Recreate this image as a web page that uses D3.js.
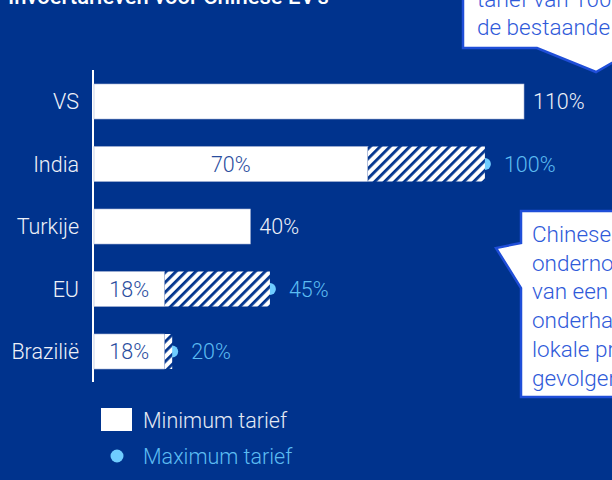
<!DOCTYPE html>
<html lang="nl">
<head>
<meta charset="utf-8">
<title>Invoertarieven voor Chinese EV's</title>
<script src="https://cdn.jsdelivr.net/npm/d3@7/dist/d3.min.js"></script>
<style>
  html, body { margin: 0; padding: 0; background: #00338d; }
  svg { display: block; font-family: "Roboto", "Liberation Sans", sans-serif; font-weight: 300; }
</style>
</head>
<body>
<svg width="612" height="480"></svg>
<script>
// data
var categories = ["VS", "India", "Turkije", "EU", "Brazilië"];
var minTarief = [110, 70, 40, 18, 18];
var maxTarief = [null, 100, null, 45, 20];
var legendLabels = ["Minimum tarief", "Maximum tarief"];
var calloutTop = ["tarief van 100% bovenop", "de bestaande 25%"];
var calloutMid = ["Chinese fabrikanten", "ondernomen stappen", "van een", "onderhandelingen", "lokale productie", "gevolgen"];

var blue = "#00338d", white = "#ffffff", light = "#6fcdff", lightText = "#5cbcf2";
var callBlue = "#1f4ed8", callText = "#2f5ad9";
var fs = 21.5;

var svg = d3.select("svg");

var data = categories.map(function(c, i) {
  return { cat: c, min: minTarief[i], max: maxTarief[i] };
});

var x = d3.scaleLinear().domain([0, 110]).range([94, 524]);
var y = d3.scaleBand().domain(categories).range([56.5, 396.5]).padding(0.44);
var bw = y.bandwidth();

// hatch pattern
var pat = svg.append("defs").append("pattern")
  .attr("id", "hatch")
  .attr("patternUnits", "userSpaceOnUse")
  .attr("width", 7).attr("height", 7)
  .attr("patternTransform", "rotate(45)");
pat.append("rect").attr("width", 7).attr("height", 7).attr("fill", white);
pat.append("rect").attr("width", 2.8).attr("height", 7).attr("fill", blue);

// title (cut at top)
svg.append("text")
  .attr("x", 8).attr("y", 4)
  .attr("fill", white)
  .attr("font-size", 22)
  .attr("font-weight", 500)
  .text("Invoertarieven voor Chinese EV's");

// axis line
svg.append("line")
  .attr("x1", 93).attr("x2", 93)
  .attr("y1", 70).attr("y2", 382)
  .attr("stroke", white).attr("stroke-width", 2);

// category labels
svg.selectAll(".cat")
  .data(data).enter().append("text")
  .attr("class", "cat")
  .attr("x", 79)
  .attr("y", function(d) { return y(d.cat) + bw / 2; })
  .attr("dy", "0.36em")
  .attr("text-anchor", "end")
  .attr("fill", "#eef1f8")
  .attr("font-size", fs)
  .text(function(d) { return d.cat; });

var withMax = data.filter(function(d) { return d.max != null; });

// max dots (behind hatch)
svg.selectAll(".dot")
  .data(withMax).enter().append("circle")
  .attr("cx", function(d) { return x(d.max); })
  .attr("cy", function(d) { return y(d.cat) + bw / 2; })
  .attr("r", 6)
  .attr("fill", light);

// hatched range min..max
svg.selectAll(".range")
  .data(withMax).enter().append("rect")
  .attr("x", function(d) { return x(d.min); })
  .attr("y", function(d) { return y(d.cat); })
  .attr("width", function(d) { return x(d.max) - x(d.min); })
  .attr("height", bw)
  .attr("fill", "url(#hatch)");

// min bars
svg.selectAll(".bar")
  .data(data).enter().append("rect")
  .attr("x", x(0))
  .attr("y", function(d) { return y(d.cat); })
  .attr("width", function(d) { return x(d.min) - x(0); })
  .attr("height", bw)
  .attr("fill", white)
  .attr("stroke", "#a8b6d8")
  .attr("stroke-width", 0.6);

// min labels
svg.selectAll(".minlab")
  .data(data).enter().append("text")
  .attr("x", function(d) { return d.max != null ? (x(0) + x(d.min)) / 2 : x(d.min) + 9; })
  .attr("y", function(d) { return y(d.cat) + bw / 2; })
  .attr("dy", "0.36em")
  .attr("text-anchor", function(d) { return d.max != null ? "middle" : "start"; })
  .attr("fill", function(d) { return d.max != null ? "#2a4d9e" : "#eef1f8"; })
  .attr("font-size", fs)
  .text(function(d) { return d.min + "%"; });

// max labels
svg.selectAll(".maxlab")
  .data(withMax).enter().append("text")
  .attr("x", function(d) { return x(d.max) + 19; })
  .attr("y", function(d) { return y(d.cat) + bw / 2; })
  .attr("dy", "0.36em")
  .attr("fill", lightText)
  .attr("font-size", fs)
  .text(function(d) { return d.max + "%"; });

// legend
svg.append("rect").attr("x", 101).attr("y", 408).attr("width", 31).attr("height", 23).attr("fill", white);
svg.append("text").attr("x", 143).attr("y", 420).attr("dy", "0.36em")
  .attr("fill", "#e4e9f4").attr("font-size", fs).text(legendLabels[0]);
svg.append("circle").attr("cx", 117).attr("cy", 456).attr("r", 6.5).attr("fill", light);
svg.append("text").attr("x", 143).attr("y", 456).attr("dy", "0.36em")
  .attr("fill", lightText).attr("font-size", fs).text(legendLabels[1]);

// callouts
svg.append("path")
  .attr("d", "M463,-10 L463,48 L537,48 L596,72 L638,48 L700,48 L700,-10 Z")
  .attr("fill", white).attr("stroke", callBlue).attr("stroke-width", 2.5);
svg.selectAll(".ct")
  .data(calloutTop).enter().append("text")
  .attr("x", 477)
  .attr("y", function(d, i) { return 7 + i * 28; })
  .attr("fill", callText).attr("font-size", 22.5)
  .text(function(d) { return d; });

svg.append("path")
  .attr("d", "M521,211 L700,211 L700,397 L521,397 L521,288 L496,248 L521,243 Z")
  .attr("fill", white).attr("stroke", callBlue).attr("stroke-width", 2.5);
svg.selectAll(".cm")
  .data(calloutMid).enter().append("text")
  .attr("x", 532)
  .attr("y", function(d, i) { return 242 + i * 28.7; })
  .attr("fill", callText).attr("font-size", 22.5)
  .text(function(d) { return d; });
</script>
</body>
</html>
